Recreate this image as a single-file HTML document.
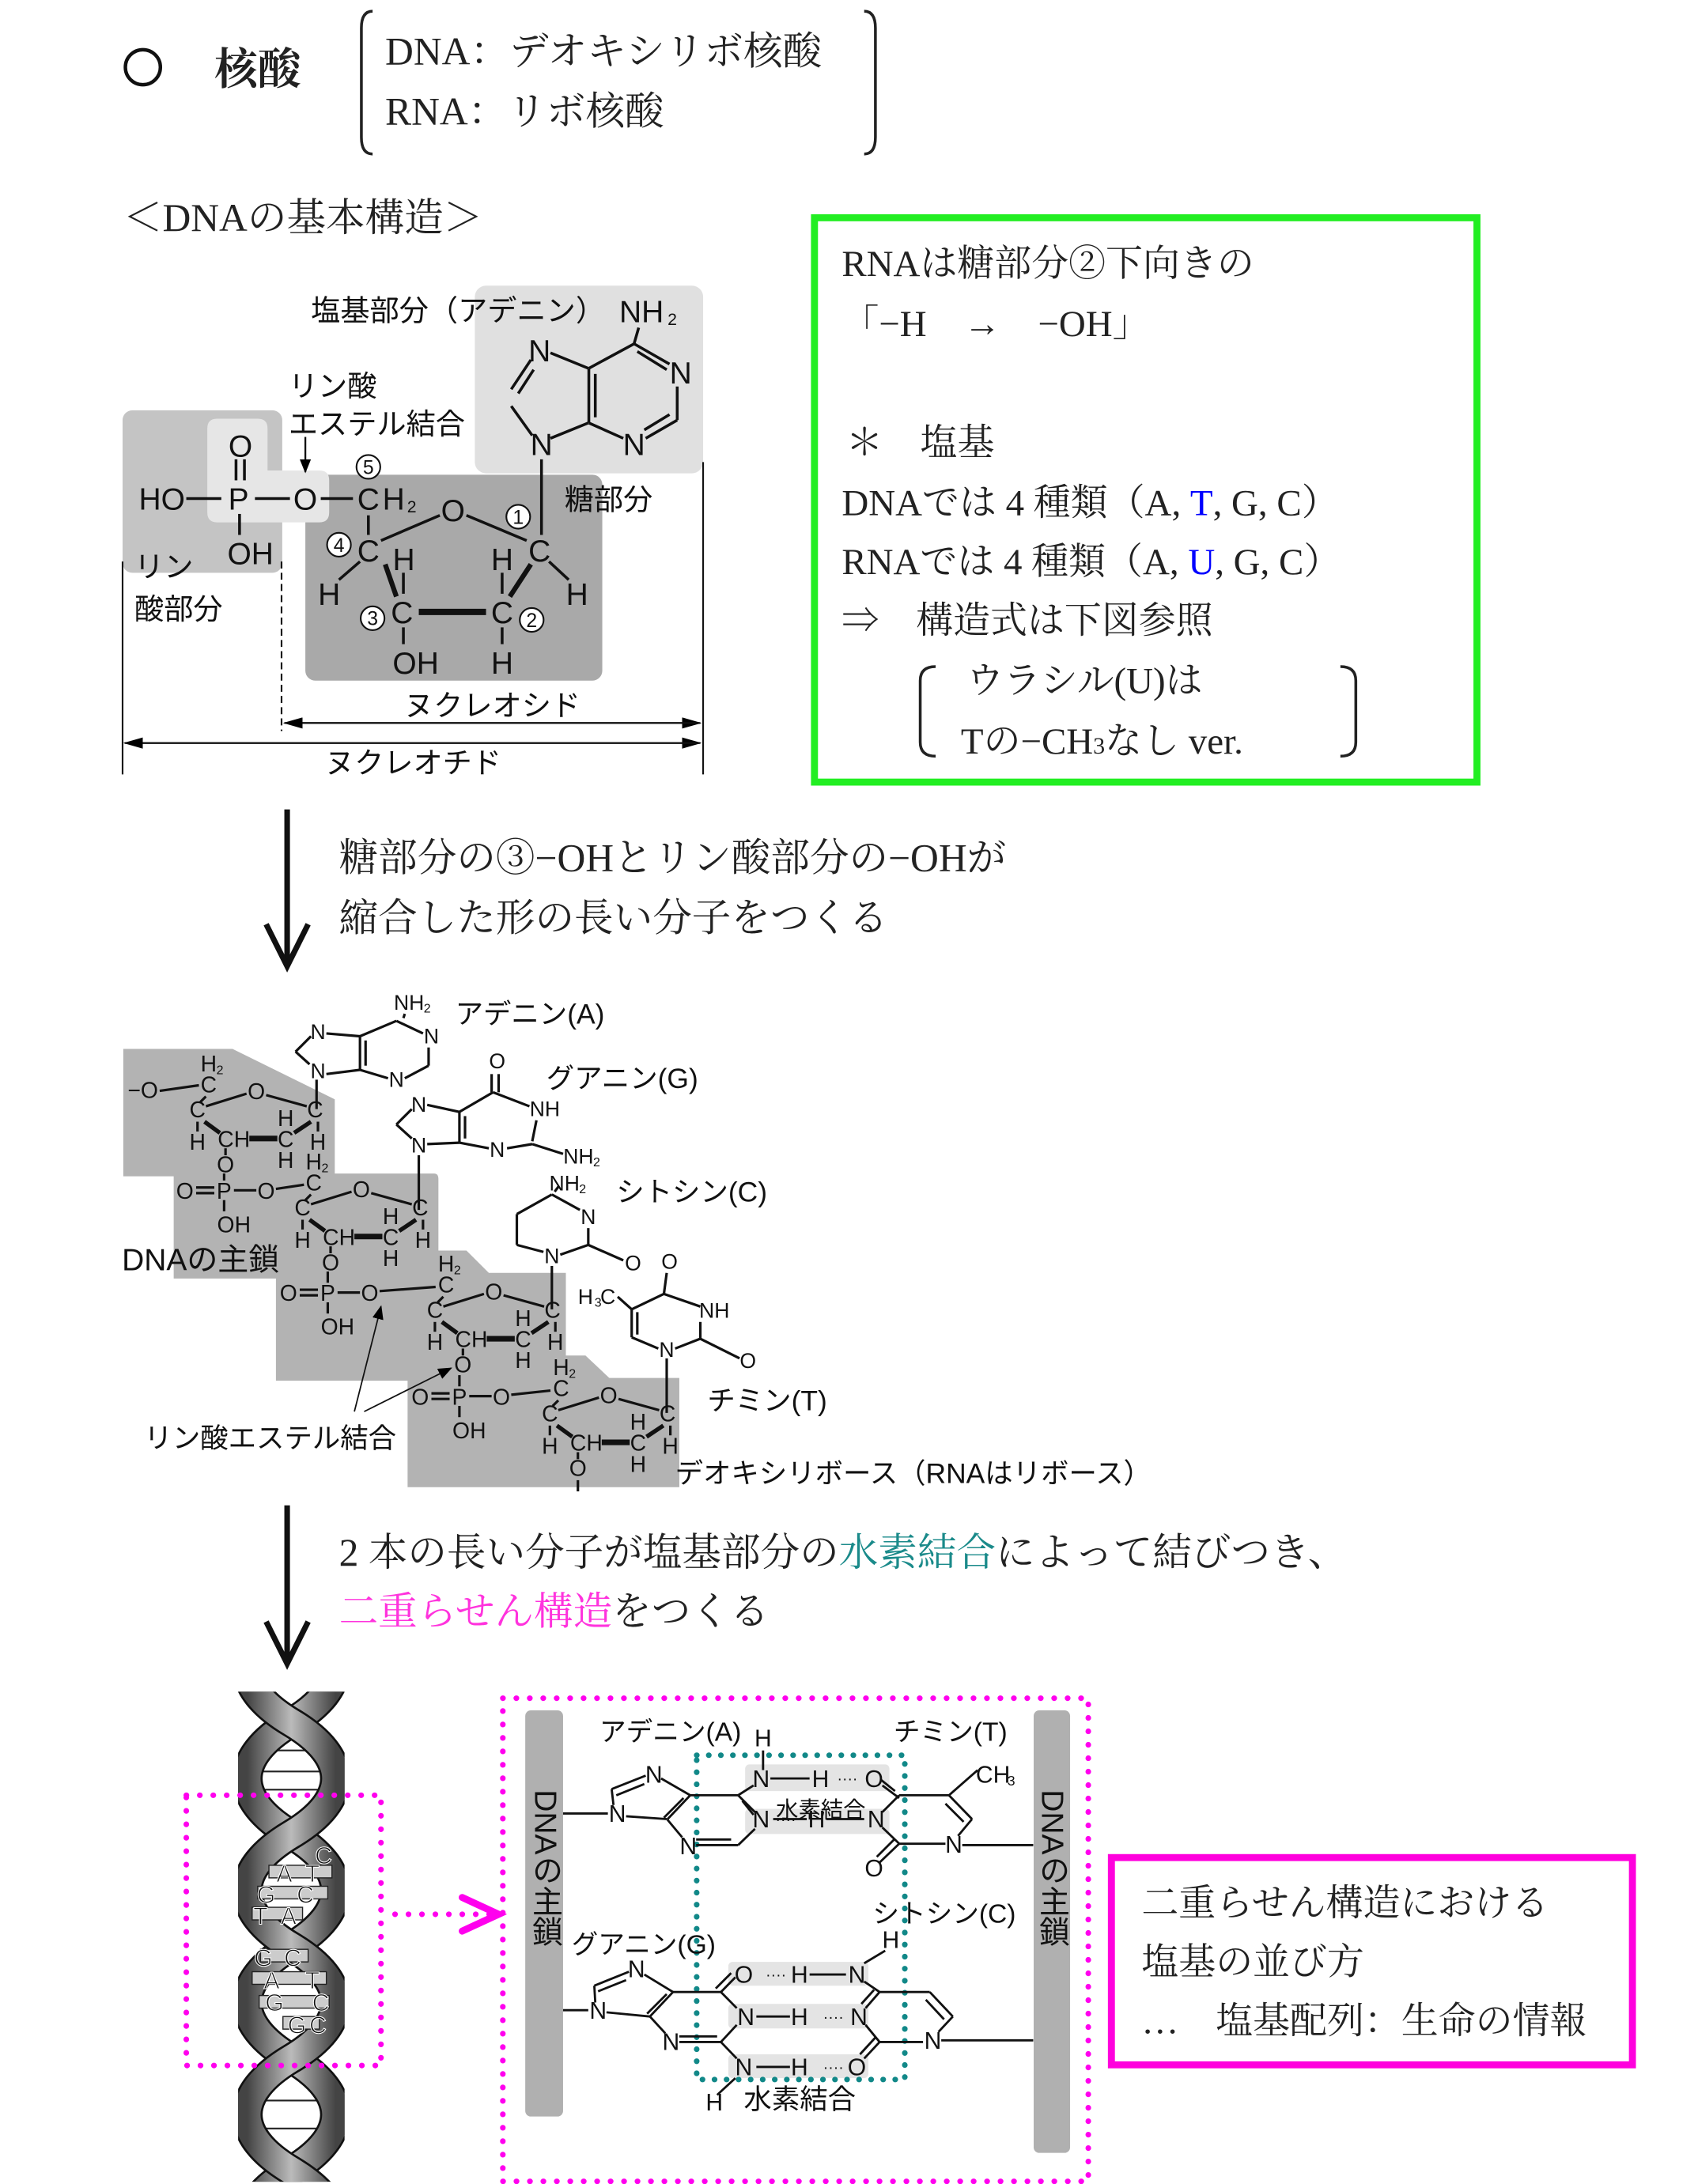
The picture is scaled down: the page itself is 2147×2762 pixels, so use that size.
<!DOCTYPE html>
<html><head><meta charset="utf-8">
<style>
html,body{margin:0;padding:0;background:#fff;}
svg{display:block;}
.s{font-family:"Liberation Serif","Noto Serif CJK SC","Noto Sans CJK JP",serif;fill:#222;}
.a{font-family:"Liberation Sans","Noto Sans CJK JP",sans-serif;fill:#111;}
</style></head><body>
<svg width="2147" height="2762" viewBox="0 0 1212.3 1559.6" xmlns="http://www.w3.org/2000/svg">
<defs>
<marker id="ar" markerWidth="10" markerHeight="8" refX="9" refY="4" orient="auto" markerUnits="userSpaceOnUse"><path d="M0,0 L10,4 L0,8 Z" fill="#000"/></marker>
<marker id="ar2" markerWidth="14" markerHeight="8" refX="13" refY="4" orient="auto" markerUnits="userSpaceOnUse"><path d="M0,0 L14,4 L0,8 Z" fill="#000"/></marker>
<linearGradient id="rib" x1="0" x2="1" y1="0" y2="0"><stop offset="0" stop-color="#444"/><stop offset="0.5" stop-color="#bbb"/><stop offset="1" stop-color="#444"/></linearGradient>
<clipPath id="hc"><rect x="170" y="1208" width="76" height="350"/></clipPath>
</defs>

<!-- Title -->
<circle cx="102" cy="48" r="12.5" fill="none" stroke="#111" stroke-width="2.5"/>
<text x="153" y="60" class="s" font-size="31" font-weight="bold" fill="#111">核酸</text>
<path d="M266,8 Q258,8 258,20 L258,98 Q258,110 266,110" fill="none" stroke="#222" stroke-width="2"/>
<path d="M617,8 Q625,8 625,20 L625,98 Q625,110 617,110" fill="none" stroke="#222" stroke-width="2"/>
<text x="275" y="46" class="s" font-size="28">DNA：デオキシリボ核酸</text>
<text x="275" y="89" class="s" font-size="28">RNA：リボ核酸</text>
<text x="88" y="165" class="s" font-size="28">＜DNAの基本構造＞</text>

<!-- Green box -->
<rect x="581.5" y="155.5" width="473" height="403" fill="none" stroke="#22ee22" stroke-width="5"/>
<g class="s" font-size="26.5">
<text x="601" y="197">RNAは糖部分②下向きの</text>
<text x="601" y="240">「−H　→　−OH」</text>
<text x="604" y="325">＊　塩基</text>
<text x="601" y="368">DNAでは 4 種類（A,  <tspan fill="#0000ff">T</tspan>,  G,  C）</text>
<text x="601" y="410">RNAでは 4 種類（A,  <tspan fill="#0000ff">U</tspan>,  G,  C）</text>
<text x="601" y="452">⇒　構造式は下図参照</text>
<text x="690" y="495">ウラシル(U)は</text>
<text x="686" y="538">Tの−CH<tspan font-size="17">3</tspan>なし ver.</text>
</g>
<path d="M668,476 Q657,476 657,486 L657,530 Q657,540 668,540" fill="none" stroke="#222" stroke-width="2"/>
<path d="M957,476 Q968,476 968,486 L968,530 Q968,540 957,540" fill="none" stroke="#222" stroke-width="2"/>

<!-- Nucleotide boxes -->
<rect x="87.5" y="293" width="114" height="116" rx="7" fill="#c4c4c4"/>
<rect x="218" y="339" width="212" height="147" rx="7" fill="#a9a9a9"/>
<rect x="339" y="204" width="163" height="134" rx="8" fill="#e0e0e0"/>
<path d="M155,299 H184 Q191,299 191,306 V336 H228 Q235,336 235,343 V366 Q235,373 228,373 H155 Q148,373 148,366 V306 Q148,299 155,299 Z" fill="#e6e6e6"/>

<g class="a" font-size="22" text-anchor="middle">
<text x="115.6" y="364">HO</text>
<text x="170.3" y="364">P</text>
<text x="218" y="364">O</text>
<text x="263" y="364">C</text><text x="281" y="364">H</text><text x="294" y="366" font-size="12">2</text>
<text x="171.7" y="326">O</text>
<text x="178.8" y="403">OH</text>
<text x="323.4" y="372">O</text>
<text x="263" y="401">C</text>
<text x="385.2" y="401">C</text>
<text x="287" y="445">C</text>
<text x="358.5" y="445">C</text>
<text x="235" y="432">H</text>
<text x="288.3" y="407">H</text>
<text x="358.5" y="407">H</text>
<text x="412" y="432">H</text>
<text x="296.8" y="481">OH</text>
<text x="358.5" y="481">H</text>
<text x="386.6" y="325">N</text>
<text x="385.2" y="258">N</text>
<text x="452.7" y="325">N</text>
<text x="486" y="274">N</text>
<text x="458" y="230">NH</text><text x="480" y="232" font-size="12">2</text>
</g>
<g stroke="#111" stroke-width="2" fill="none">
<line x1="133" y1="356" x2="158" y2="356"/><line x1="182" y1="356" x2="207" y2="356"/><line x1="229" y1="356" x2="252" y2="356"/>
<line x1="168.5" y1="328" x2="168.5" y2="343"/><line x1="174.5" y1="328" x2="174.5" y2="343"/>
<line x1="171" y1="367" x2="171" y2="382"/>
<line x1="263" y1="368" x2="263" y2="382"/>
<line x1="272" y1="386" x2="314" y2="368"/>
<line x1="333" y1="368" x2="376" y2="386"/>
<line x1="257" y1="401" x2="242" y2="414"/>
<line x1="392" y1="401" x2="406" y2="414"/>
<line x1="288" y1="409" x2="288" y2="424"/>
<line x1="358.5" y1="409" x2="358.5" y2="424"/>
<line x1="288" y1="448" x2="288" y2="460"/>
<line x1="358.5" y1="448" x2="358.5" y2="460"/>
<line x1="386.6" y1="328" x2="386.6" y2="382"/>
<line x1="380" y1="311" x2="365" y2="290"/>
<line x1="365" y1="278" x2="379" y2="257"/><line x1="370" y1="281" x2="381" y2="264"/>
<line x1="393" y1="252" x2="420" y2="263"/>
<line x1="393" y1="313" x2="420" y2="302"/>
<line x1="420.4" y1="263" x2="420.4" y2="302"/><line x1="425" y1="267" x2="425" y2="298"/>
<line x1="420.4" y1="263" x2="452.7" y2="245.5"/>
<line x1="452.7" y1="245.5" x2="478" y2="260"/><line x1="455" y1="251" x2="476" y2="264"/>
<line x1="483.5" y1="276" x2="483.5" y2="300"/>
<line x1="483.5" y1="300" x2="461" y2="313"/><line x1="478" y1="296" x2="460" y2="307"/>
<line x1="420.4" y1="302" x2="445" y2="313"/>
<line x1="452.7" y1="245.5" x2="456" y2="234"/>
</g>
<line x1="275" y1="403" x2="283" y2="426" stroke="#111" stroke-width="3.5"/>
<line x1="379" y1="403" x2="364" y2="426" stroke="#111" stroke-width="3.5"/>
<line x1="299" y1="437" x2="347" y2="437" stroke="#111" stroke-width="4.5"/>
<g class="a" font-size="14" text-anchor="middle">
<circle cx="263" cy="333.4" r="8.5" fill="#fff" stroke="#111" stroke-width="1.2"/><text x="263" y="338.5">5</text>
<circle cx="242" cy="389" r="8.5" fill="#fff" stroke="#111" stroke-width="1.2"/><text x="242" y="394">4</text>
<circle cx="370" cy="369" r="8.5" fill="#fff" stroke="#111" stroke-width="1.2"/><text x="370" y="374">1</text>
<circle cx="266" cy="441.5" r="8.5" fill="#fff" stroke="#111" stroke-width="1.2"/><text x="266" y="446.5">3</text>
<circle cx="379.6" cy="442.7" r="8.5" fill="#fff" stroke="#111" stroke-width="1.2"/><text x="379.6" y="447.7">2</text>
</g>
<g class="a" font-size="21" fill="#222">
<text x="222" y="229">塩基部分（アデニン）</text>
<text x="206" y="283">リン酸</text>
<text x="206" y="310">エステル結合</text>
<text x="96" y="412">リン</text>
<text x="96" y="442">酸部分</text>
<text x="403" y="364">糖部分</text>
<text x="351.5" y="511" text-anchor="middle">ヌクレオシド</text>
<text x="295" y="552" text-anchor="middle">ヌクレオチド</text>
</g>
<line x1="218" y1="312" x2="218" y2="337" stroke="#111" stroke-width="1.3" marker-end="url(#ar)"/>
<g stroke="#111" stroke-width="1.2">
<line x1="87.5" y1="401" x2="87.5" y2="553"/>
<line x1="201" y1="401" x2="201" y2="522" stroke-dasharray="5,3"/>
<line x1="502" y1="330" x2="502" y2="553"/>
<line x1="205" y1="516.3" x2="500" y2="516.3" marker-end="url(#ar2)"/>
<line x1="498" y1="516.3" x2="203" y2="516.3" marker-end="url(#ar2)"/>
<line x1="91" y1="530.6" x2="500" y2="530.6" marker-end="url(#ar2)"/>
<line x1="498" y1="530.6" x2="89" y2="530.6" marker-end="url(#ar2)"/>
</g>

<!-- Arrow 1 -->
<line x1="205" y1="578" x2="205" y2="688" stroke="#111" stroke-width="4"/>
<path d="M190,660 L205,690 L220,660" fill="none" stroke="#111" stroke-width="4"/>
<text x="242" y="622" class="s" font-size="28">糖部分の③−OHとリン酸部分の−OHが</text>
<text x="242" y="665" class="s" font-size="28">縮合した形の長い分子をつくる</text>

<!-- Chain gray boxes -->
<g fill="#b3b3b3">
<path d="M88,749 H166 L239,785 V840 H88 Z"/>
<path d="M124,838 H310 Q313,838 313,842 V913 H124 Z"/>
<path d="M197,893 H333 L349,909 H404 V986 H197 Z"/>
<path d="M291,968 H418 L435,984 H485 V1062 H291 Z"/>
</g>

<!-- Chain units -->
<g class="a" font-size="16" text-anchor="middle">
<text x="102" y="784">−O</text>
</g>
<line x1="114" y1="779" x2="142" y2="775" stroke="#111" stroke-width="1.8"/>

<g transform="translate(149,774)">
<g class="a" font-size="16" text-anchor="middle">
<text x="0" y="6">C</text><text x="0" y="-9">H</text><text x="8" y="-7" font-size="9">2</text>
<text x="34" y="11">O</text><text x="76" y="24">C</text><text x="-8" y="24">C</text><text x="-8" y="47">H</text><text x="18" y="45">CH</text><text x="55" y="45">C</text><text x="55" y="30">H</text><text x="55" y="60">H</text><text x="78" y="47">H</text><text x="12" y="63">O</text>
</g>
<g stroke="#111" stroke-width="1.8"><line x1="-2" y1="9" x2="-6" y2="13"/><line x1="-2" y1="16" x2="27" y2="7"/><line x1="41" y1="8" x2="70" y2="16"/><line x1="-8" y1="27" x2="-8" y2="34"/><line x1="78" y1="27" x2="78" y2="34"/><line x1="12" y1="46" x2="12" y2="51"/></g>
<line x1="-3" y1="27" x2="8" y2="35" stroke="#111" stroke-width="3"/><line x1="73" y1="27" x2="61" y2="35" stroke="#111" stroke-width="3"/><line x1="29" y1="39" x2="49" y2="39" stroke="#111" stroke-width="4"/>
</g>
<g transform="translate(224,844)">
<g class="a" font-size="16" text-anchor="middle">
<text x="0" y="6">C</text><text x="0" y="-9">H</text><text x="8" y="-7" font-size="9">2</text>
<text x="34" y="11">O</text><text x="76" y="24">C</text><text x="-8" y="24">C</text><text x="-8" y="47">H</text><text x="18" y="45">CH</text><text x="55" y="45">C</text><text x="55" y="30">H</text><text x="55" y="60">H</text><text x="78" y="47">H</text><text x="12" y="63">O</text>
</g>
<g stroke="#111" stroke-width="1.8"><line x1="-2" y1="9" x2="-6" y2="13"/><line x1="-2" y1="16" x2="27" y2="7"/><line x1="41" y1="8" x2="70" y2="16"/><line x1="-8" y1="27" x2="-8" y2="34"/><line x1="78" y1="27" x2="78" y2="34"/><line x1="12" y1="46" x2="12" y2="51"/></g>
<line x1="-3" y1="27" x2="8" y2="35" stroke="#111" stroke-width="3"/><line x1="73" y1="27" x2="61" y2="35" stroke="#111" stroke-width="3"/><line x1="29" y1="39" x2="49" y2="39" stroke="#111" stroke-width="4"/>
</g>
<g transform="translate(318.5,917)">
<g class="a" font-size="16" text-anchor="middle">
<text x="0" y="6">C</text><text x="0" y="-9">H</text><text x="8" y="-7" font-size="9">2</text>
<text x="34" y="11">O</text><text x="76" y="24">C</text><text x="-8" y="24">C</text><text x="-8" y="47">H</text><text x="18" y="45">CH</text><text x="55" y="45">C</text><text x="55" y="30">H</text><text x="55" y="60">H</text><text x="78" y="47">H</text><text x="12" y="63">O</text>
</g>
<g stroke="#111" stroke-width="1.8"><line x1="-2" y1="9" x2="-6" y2="13"/><line x1="-2" y1="16" x2="27" y2="7"/><line x1="41" y1="8" x2="70" y2="16"/><line x1="-8" y1="27" x2="-8" y2="34"/><line x1="78" y1="27" x2="78" y2="34"/><line x1="12" y1="46" x2="12" y2="51"/></g>
<line x1="-3" y1="27" x2="8" y2="35" stroke="#111" stroke-width="3"/><line x1="73" y1="27" x2="61" y2="35" stroke="#111" stroke-width="3"/><line x1="29" y1="39" x2="49" y2="39" stroke="#111" stroke-width="4"/>
</g>
<g transform="translate(400.6,991)">
<g class="a" font-size="16" text-anchor="middle">
<text x="0" y="6">C</text><text x="0" y="-9">H</text><text x="8" y="-7" font-size="9">2</text>
<text x="34" y="11">O</text><text x="76" y="24">C</text><text x="-8" y="24">C</text><text x="-8" y="47">H</text><text x="18" y="45">CH</text><text x="55" y="45">C</text><text x="55" y="30">H</text><text x="55" y="60">H</text><text x="78" y="47">H</text><text x="12" y="63">O</text>
</g>
<g stroke="#111" stroke-width="1.8"><line x1="-2" y1="9" x2="-6" y2="13"/><line x1="-2" y1="16" x2="27" y2="7"/><line x1="41" y1="8" x2="70" y2="16"/><line x1="-8" y1="27" x2="-8" y2="34"/><line x1="78" y1="27" x2="78" y2="34"/><line x1="12" y1="46" x2="12" y2="51"/><line x1="12" y1="66" x2="12" y2="74"/></g>
<line x1="-3" y1="27" x2="8" y2="35" stroke="#111" stroke-width="3"/><line x1="73" y1="27" x2="61" y2="35" stroke="#111" stroke-width="3"/><line x1="29" y1="39" x2="49" y2="39" stroke="#111" stroke-width="4"/>
</g>

<!-- phosphates -->
<g class="a" font-size="16" text-anchor="middle">
<text x="132" y="856">O</text><text x="160" y="856">P</text><text x="190" y="856">O</text><text x="167" y="880">OH</text>
<text x="206" y="929">O</text><text x="234" y="929">P</text><text x="264" y="929">O</text><text x="241" y="953">OH</text>
<text x="300" y="1003">O</text><text x="328" y="1003">P</text><text x="358" y="1003">O</text><text x="335" y="1027">OH</text>
</g>
<g stroke="#111" stroke-width="1.8">
<line x1="140" y1="848" x2="153" y2="848"/><line x1="140" y1="852" x2="153" y2="852"/><line x1="167" y1="850" x2="183" y2="850"/><line x1="160" y1="857" x2="160" y2="865"/><line x1="160" y1="838" x2="160" y2="843"/><line x1="197" y1="849" x2="217" y2="846"/>
<line x1="214" y1="921" x2="227" y2="921"/><line x1="214" y1="925" x2="227" y2="925"/><line x1="241" y1="923" x2="257" y2="923"/><line x1="234" y1="930" x2="234" y2="938"/><line x1="234" y1="908" x2="234" y2="916"/><line x1="271" y1="922" x2="311" y2="919"/>
<line x1="308" y1="995" x2="321" y2="995"/><line x1="308" y1="999" x2="321" y2="999"/><line x1="335" y1="997" x2="351" y2="997"/><line x1="328" y1="1004" x2="328" y2="1012"/><line x1="328" y1="982" x2="328" y2="990"/><line x1="365" y1="996" x2="393" y2="993"/>
</g>

<!-- bases in chain -->
<g class="a" font-size="15" text-anchor="middle">
<text x="227" y="770">N</text><text x="227" y="742">N</text><text x="283" y="776">N</text><text x="308" y="745">N</text><text x="292" y="721">NH</text><text x="305" y="723" font-size="9">2</text>
<text x="299" y="823">N</text><text x="299" y="794">N</text><text x="355" y="826">N</text><text x="389" y="797">NH</text><text x="355" y="763">O</text><text x="413" y="831">NH</text><text x="426" y="833" font-size="9">2</text>
<text x="394" y="902">N</text><text x="420" y="874">N</text><text x="452" y="907">O</text><text x="403" y="850">NH</text><text x="416" y="852" font-size="9">2</text>
<text x="476" y="969">N</text><text x="478" y="906">O</text><text x="510" y="941">NH</text><text x="534" y="977">O</text><text x="418" y="931">H</text><text x="427" y="933" font-size="9">3</text><text x="434" y="931">C</text>
</g>
<g stroke="#111" stroke-width="1.8" fill="none">
<line x1="226" y1="792" x2="226" y2="771"/>
<line x1="221" y1="760" x2="211" y2="751"/><line x1="211" y1="751" x2="222" y2="740"/><line x1="233" y1="738" x2="257" y2="740"/><line x1="233" y1="767" x2="257" y2="764"/><line x1="257" y1="740" x2="257" y2="764"/><line x1="261" y1="743" x2="261" y2="761"/><line x1="257" y1="740" x2="283" y2="729"/><line x1="283" y1="729" x2="302" y2="738"/><line x1="306" y1="748" x2="306" y2="761"/><line x1="306" y1="761" x2="289" y2="770"/><line x1="257" y1="764" x2="277" y2="770"/><line x1="288" y1="727" x2="289" y2="724"/>
<line x1="299" y1="864" x2="299" y2="825"/>
<line x1="294" y1="813" x2="283" y2="803"/><line x1="283" y1="803" x2="294" y2="792"/><line x1="305" y1="789" x2="328" y2="794"/><line x1="305" y1="817" x2="328" y2="816"/><line x1="328" y1="794" x2="328" y2="816"/><line x1="332" y1="797" x2="332" y2="813"/><line x1="328" y1="794" x2="352" y2="780"/><line x1="352" y1="780" x2="378" y2="790"/><line x1="383" y1="800" x2="380" y2="815"/><line x1="380" y1="817" x2="362" y2="820"/><line x1="328" y1="816" x2="349" y2="820"/><line x1="380" y1="817" x2="402" y2="824"/><line x1="351" y1="780" x2="351" y2="767"/><line x1="356" y1="780" x2="356" y2="767"/>
<line x1="394" y1="935" x2="394" y2="904"/>
<line x1="388" y1="894" x2="369" y2="889"/><line x1="369" y1="889" x2="369" y2="867"/><line x1="369" y1="867" x2="394" y2="853"/><line x1="394" y1="853" x2="414" y2="864"/><line x1="420" y1="877" x2="420" y2="889"/><line x1="420" y1="889" x2="400" y2="896"/><line x1="420" y1="889" x2="445" y2="900"/><line x1="396" y1="851" x2="399" y2="847"/>
<line x1="476" y1="1009" x2="476" y2="970"/>
<line x1="470" y1="963" x2="451" y2="955"/><line x1="451" y1="955" x2="451" y2="935"/><line x1="455" y1="953" x2="455" y2="937"/><line x1="451" y1="935" x2="474" y2="924"/><line x1="474" y1="924" x2="500" y2="933"/><line x1="474" y1="924" x2="476" y2="909"/><line x1="500" y1="944" x2="500" y2="956"/><line x1="500" y1="956" x2="482" y2="963"/><line x1="500" y1="956" x2="528" y2="970"/><line x1="441" y1="926" x2="451" y2="935"/>
</g>
<g class="a" font-size="20" fill="#222">
<text x="325" y="731">アデニン(A)</text>
<text x="390" y="777">グアニン(G)</text>
<text x="440" y="858">シトシン(C)</text>
<text x="505" y="1007">チミン(T)</text>
<text x="87" y="907" font-size="22">DNAの主鎖</text>
<text x="103" y="1034">リン酸エステル結合</text>
<text x="482" y="1059">デオキシリボース（RNAはリボース）</text>
</g>
<line x1="253" y1="1008" x2="272" y2="933" stroke="#111" stroke-width="1" marker-end="url(#ar)"/>
<line x1="260" y1="1008" x2="322" y2="977" stroke="#111" stroke-width="1" marker-end="url(#ar)"/>

<!-- Arrow 2 -->
<line x1="205" y1="1075" x2="205" y2="1186" stroke="#111" stroke-width="4"/>
<path d="M190,1158 L205,1188 L220,1158" fill="none" stroke="#111" stroke-width="4"/>
<text x="242" y="1118" class="s" font-size="28">2 本の長い分子が塩基部分の<tspan fill="#1a8a8a">水素結合</tspan>によって結びつき、</text>
<text x="242" y="1160" class="s" font-size="28"><tspan fill="#ff33dd">二重らせん構造</tspan>をつくる</text>

<!-- Helix -->
<g clip-path="url(#hc)">
<g stroke="#222" stroke-width="1.2">
<line x1="180" y1="1265" x2="236" y2="1265"/><line x1="185" y1="1278" x2="236" y2="1278"/>
<line x1="180" y1="1500" x2="236" y2="1500"/><line x1="185" y1="1520" x2="236" y2="1520"/><line x1="185" y1="1250" x2="236" y2="1250"/>
</g>
<g fill="none" stroke-linecap="butt">
<path d="M208,1150 C250,1175 250,1205 208,1230 C166,1255 166,1285 208,1310 C250,1335 250,1365 208,1390 C166,1415 166,1445 208,1470 C250,1495 250,1525 208,1550 C166,1575 166,1605 208,1630" stroke="#111" stroke-width="22"/>
<path d="M208,1150 C250,1175 250,1205 208,1230 C166,1255 166,1285 208,1310 C250,1335 250,1365 208,1390 C166,1415 166,1445 208,1470 C250,1495 250,1525 208,1550 C166,1575 166,1605 208,1630" stroke="url(#rib)" stroke-width="19"/>
<path d="M208,1150 C166,1175 166,1205 208,1230 C250,1255 250,1285 208,1310 C166,1335 166,1365 208,1390 C250,1415 250,1445 208,1470 C166,1495 166,1525 208,1550 C250,1575 250,1605 208,1630" stroke="#111" stroke-width="22"/>
<path d="M208,1150 C166,1175 166,1205 208,1230 C250,1255 250,1285 208,1310 C166,1335 166,1365 208,1390 C250,1415 250,1445 208,1470 C166,1495 166,1525 208,1550 C250,1575 250,1605 208,1630" stroke="url(#rib)" stroke-width="19"/>
</g>
<g fill="#ccc" stroke="#222" stroke-width="0.8">
<rect x="192" y="1332" width="45" height="9"/><rect x="184" y="1347" width="50" height="9"/><rect x="180" y="1362" width="36" height="9"/>
<rect x="186" y="1392" width="34" height="9"/><rect x="180" y="1408" width="53" height="9"/><rect x="185" y="1425" width="50" height="9"/><rect x="202" y="1440" width="26" height="9"/>
</g>
<g class="a" font-size="17" fill="#111" stroke="#fff" stroke-width="0.6" text-anchor="middle">
<text x="231" y="1331">C</text><text x="203" y="1344">A</text><text x="223" y="1344">T</text>
<text x="190" y="1359">G</text><text x="218" y="1359">C</text><text x="186" y="1374">T</text><text x="206" y="1374">A</text>
<text x="188" y="1404">G</text><text x="209" y="1404">C</text><text x="194" y="1420">A</text><text x="223" y="1420">T</text>
<text x="196" y="1436">G</text><text x="229" y="1436">C</text><text x="212" y="1452">G</text><text x="227" y="1452">C</text>
</g>
</g>
<rect x="133" y="1282" width="139" height="193" fill="none" stroke="#ff00ee" stroke-width="4" stroke-dasharray="0.1,9.5" stroke-linecap="round"/>
<line x1="282" y1="1367" x2="350" y2="1367" stroke="#ff00ee" stroke-width="4" stroke-dasharray="0.1,9.5" stroke-linecap="round"/>
<path d="M330,1355 L356,1367 L330,1379" fill="none" stroke="#ff00ee" stroke-width="5" stroke-linecap="round"/>

<!-- Big pair box -->
<rect x="359" y="1212.7" width="418" height="345" fill="none" stroke="#ff00ee" stroke-width="4" stroke-dasharray="0.1,9.5" stroke-linecap="round"/>
<rect x="375" y="1221.4" width="27" height="290" rx="4" fill="#b0b0b0"/>
<rect x="738" y="1221.4" width="26" height="316" rx="4" fill="#b0b0b0"/>
<g class="a" font-size="22" fill="#222">
<text x="389" y="1278" style="writing-mode:vertical-rl">DNAの主鎖</text>
<text x="751" y="1278" style="writing-mode:vertical-rl">DNAの主鎖</text>
</g>
<g fill="#e4e4e4">
<rect x="532" y="1260" width="103" height="19" rx="3"/>
<rect x="532" y="1291.7" width="103" height="18" rx="3"/>
<rect x="520" y="1401" width="100" height="17" rx="3"/>
<rect x="520" y="1431" width="100" height="17.5" rx="3"/>
<rect x="520" y="1467" width="100" height="17" rx="3"/>
</g>
<rect x="497.4" y="1253.4" width="148.6" height="231.6" fill="none" stroke="#118888" stroke-width="4" stroke-dasharray="0.1,8.5" stroke-linecap="round"/>
<g class="a" font-size="17" text-anchor="middle" fill="#111">
<text x="440.8" y="1301">N</text><text x="466.8" y="1273">N</text><text x="491.4" y="1324">N</text>
<text x="543.4" y="1276">N</text><text x="585.8" y="1276">H</text><text x="624" y="1276">O</text>
<text x="543.4" y="1305">N</text><text x="583" y="1305">H</text><text x="625.5" y="1305">N</text>
<text x="544.8" y="1247">H</text><text x="624" y="1340">O</text><text x="681" y="1323">N</text>
<text x="709" y="1273">CH</text><text x="722" y="1275" font-size="10">3</text>
<text x="427" y="1441.5">N</text><text x="454.4" y="1412">N</text><text x="479" y="1464">N</text>
<text x="531" y="1416">O</text><text x="570.8" y="1416">H</text><text x="611.8" y="1416">N</text>
<text x="532.5" y="1446">N</text><text x="570.8" y="1446">H</text><text x="613.2" y="1446">N</text>
<text x="531" y="1482">N</text><text x="570.8" y="1482">H</text><text x="611.8" y="1482">O</text>
<text x="636" y="1391">H</text><text x="510" y="1507">H</text><text x="666" y="1463">N</text>
</g>
<g stroke="#111" stroke-width="1.6" fill="none">
<line x1="402" y1="1295" x2="434" y2="1295"/>
<line x1="447" y1="1297" x2="476" y2="1299"/><line x1="438" y1="1289" x2="436.7" y2="1277.6"/><line x1="436.7" y1="1277.6" x2="461" y2="1268"/><line x1="440" y1="1282" x2="460" y2="1274"/>
<line x1="472" y1="1270" x2="492.8" y2="1282"/><line x1="492.8" y1="1282" x2="476.4" y2="1299.3"/><line x1="488" y1="1284" x2="474" y2="1298"/>
<line x1="476.4" y1="1299.3" x2="487" y2="1312"/><line x1="497" y1="1317.6" x2="527" y2="1317.6"/><line x1="497" y1="1313.6" x2="522" y2="1313.6"/>
<line x1="527" y1="1317.6" x2="539" y2="1306"/><line x1="492.8" y1="1282" x2="527" y2="1282"/><line x1="527" y1="1282" x2="539" y2="1294"/><line x1="530" y1="1286" x2="538" y2="1296"/><line x1="527" y1="1282" x2="538" y2="1275"/>
<line x1="544.8" y1="1250" x2="544.8" y2="1264"/>
<line x1="550" y1="1270" x2="578" y2="1270"/><line x1="552" y1="1299" x2="576" y2="1299"/><line x1="590" y1="1299" x2="617" y2="1299"/>
<line x1="630" y1="1275" x2="642" y2="1284"/><line x1="629" y1="1271" x2="639" y2="1279"/>
<line x1="642" y1="1282" x2="630" y2="1294"/><line x1="630" y1="1305" x2="642" y2="1316.6"/>
<line x1="642" y1="1282" x2="677.5" y2="1282"/><line x1="677.5" y1="1282" x2="694" y2="1299"/><line x1="675" y1="1288" x2="688" y2="1301"/><line x1="694" y1="1299" x2="684" y2="1311"/>
<line x1="677.5" y1="1282" x2="698" y2="1264"/>
<line x1="642" y1="1316.6" x2="675" y2="1316.6"/><line x1="642" y1="1316.6" x2="628" y2="1330"/><line x1="639" y1="1313" x2="626" y2="1326"/>
<line x1="687" y1="1317.6" x2="737.7" y2="1317.6"/>
<line x1="402" y1="1435.5" x2="420" y2="1435.5"/>
<line x1="433" y1="1437" x2="464" y2="1440"/><line x1="425" y1="1430" x2="424.3" y2="1418"/><line x1="424.3" y1="1418" x2="449" y2="1408"/><line x1="427" y1="1422" x2="447" y2="1414"/>
<line x1="460" y1="1410" x2="480.5" y2="1422.5"/><line x1="480.5" y1="1422.5" x2="464" y2="1440"/><line x1="476" y1="1424" x2="462" y2="1438"/>
<line x1="464" y1="1440" x2="475" y2="1452"/><line x1="485" y1="1458.2" x2="514.7" y2="1458.2"/><line x1="485" y1="1454.2" x2="512" y2="1454.2"/>
<line x1="514.7" y1="1458.2" x2="526" y2="1446"/><line x1="514.7" y1="1458.2" x2="526" y2="1470"/>
<line x1="480.5" y1="1422.5" x2="514.7" y2="1422.5"/><line x1="514.7" y1="1422.5" x2="526" y2="1434"/><line x1="514.7" y1="1422.5" x2="525" y2="1412"/><line x1="511" y1="1420" x2="522" y2="1409"/>
<line x1="540" y1="1440" x2="564" y2="1440"/><line x1="540" y1="1476" x2="564" y2="1476"/><line x1="578" y1="1410" x2="604" y2="1410"/>
<line x1="525" y1="1484" x2="512" y2="1496"/><line x1="617" y1="1402" x2="632" y2="1393"/>
<line x1="617" y1="1415" x2="628" y2="1422.5"/><line x1="628" y1="1422.5" x2="618" y2="1434"/><line x1="624" y1="1421" x2="615" y2="1431"/>
<line x1="618" y1="1446" x2="628" y2="1458.2"/><line x1="628" y1="1458.2" x2="617" y2="1470"/><line x1="625" y1="1455" x2="614" y2="1467"/>
<line x1="628" y1="1422.5" x2="663.8" y2="1422.5"/><line x1="663.8" y1="1422.5" x2="680.3" y2="1440"/><line x1="661" y1="1428" x2="674" y2="1442"/>
<line x1="680.3" y1="1440" x2="670" y2="1451"/><line x1="628" y1="1458.2" x2="659" y2="1458.2"/>
<line x1="672" y1="1457" x2="737.7" y2="1457"/>
</g>
<g class="a" font-size="11" fill="#111" text-anchor="middle">
<text x="605" y="1274">····</text><text x="561" y="1303">····</text>
<text x="554" y="1414">····</text><text x="595" y="1444">····</text><text x="595" y="1480">····</text>
</g>
<g class="a" font-size="19" fill="#222">
<text x="428" y="1243">アデニン(A)</text>
<text x="638" y="1243">チミン(T)</text>
<text x="623" y="1373">シトシン(C)</text>
<text x="408" y="1395">グアニン(G)</text>
<text x="586" y="1298" text-anchor="middle" font-size="16">水素結合</text>
<text x="571" y="1506" text-anchor="middle" font-size="20">水素結合</text>
</g>

<!-- Magenta box -->
<rect x="793.5" y="1326.5" width="372" height="148" fill="none" stroke="#ff00dd" stroke-width="5"/>
<g class="s" font-size="26.5">
<text x="815" y="1368">二重らせん構造における</text>
<text x="815" y="1410">塩基の並び方</text>
<text x="815" y="1452">…　塩基配列：生命の情報</text>
</g>
</svg>
</body></html>
